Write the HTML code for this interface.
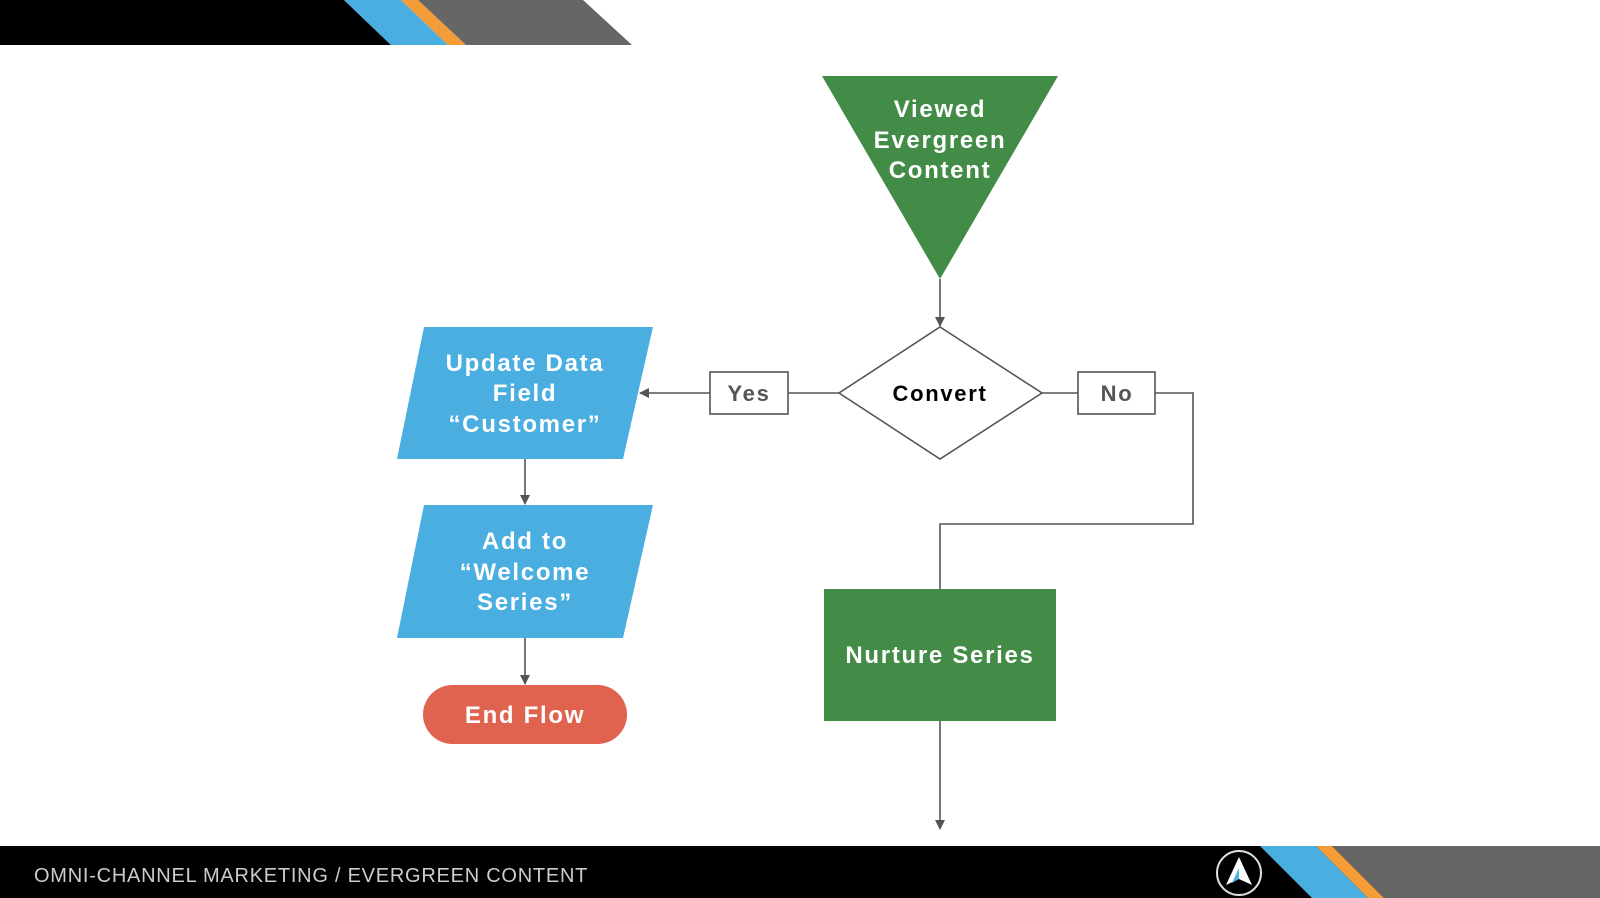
<!DOCTYPE html>
<html><head><meta charset="utf-8"><style>
html,body{margin:0;padding:0;background:#fff;}
svg{display:block;}
text{font-family:"Liberation Sans",sans-serif;font-weight:bold;letter-spacing:1.7px;}
</style></head><body>
<svg width="1600" height="898" viewBox="0 0 1600 898" xmlns="http://www.w3.org/2000/svg">
<defs><marker id="a" markerWidth="10" markerHeight="10" refX="9" refY="5" orient="auto" markerUnits="userSpaceOnUse"><path d="M0,0 L10,5 L0,10 z" fill="#555"/></marker></defs>
<polygon points="0,0 344,0 391,45 0,45" fill="#000"/>
<polygon points="344,0 401,0 448,45 391,45" fill="#4aaee0"/>
<polygon points="401,0 418,0 466,45 448,45" fill="#f39c38"/>
<polygon points="418,0 583,0 632,45 466,45" fill="#666"/>
<rect x="0" y="846" width="1600" height="52" fill="#000"/>
<polygon points="1260,846 1316,846 1368,898 1312,898" fill="#4aaee0"/>
<polygon points="1316,846 1332,846 1384,898 1368,898" fill="#f39c38"/>
<polygon points="1332,846 1600,846 1600,898 1384,898" fill="#666"/>
<circle cx="1239" cy="873" r="22" fill="none" stroke="#ddd" stroke-width="2"/>
<polygon points="1239,857 1226,885 1239,879 1252,885" fill="#fff"/>
<polygon points="1239,868 1232,883 1239,879" fill="#4aaee0"/>
<text x="34" y="882" font-size="20" fill="#ccc" style="font-weight:normal;letter-spacing:0.75px">OMNI-CHANNEL MARKETING / EVERGREEN CONTENT</text>
<g stroke="#555" stroke-width="1.6" fill="none">
<line x1="940" y1="279" x2="940" y2="326" marker-end="url(#a)"/>
<line x1="839" y1="393" x2="788" y2="393"/>
<line x1="710" y1="393" x2="640" y2="393" marker-end="url(#a)"/>
<line x1="1042" y1="393" x2="1078" y2="393"/>
<polyline points="1155,393 1193,393 1193,524 940,524 940,589"/>
<line x1="940" y1="721" x2="940" y2="829" marker-end="url(#a)"/>
<line x1="525" y1="459" x2="525" y2="504" marker-end="url(#a)"/>
<line x1="525" y1="638" x2="525" y2="684" marker-end="url(#a)"/>
<rect x="710" y="372" width="78" height="42" fill="#fff"/>
<rect x="1078" y="372" width="77" height="42" fill="#fff"/>
<polygon points="940,327 1042,393 940,459 839,393" fill="#fff"/>
</g>
<text x="749" y="401" font-size="22" fill="#555" text-anchor="middle">Yes</text>
<text x="1117" y="401" font-size="22" fill="#555" text-anchor="middle">No</text>
<text x="940" y="401" font-size="22" fill="#000" text-anchor="middle">Convert</text>
<polygon points="822,76 1058,76 940,279" fill="#438c47"/>
<g font-size="24" fill="#fff" text-anchor="middle">
<text x="940" y="117">Viewed</text>
<text x="940" y="148">Evergreen</text>
<text x="940" y="178">Content</text>
</g>
<rect x="824" y="589" width="232" height="132" fill="#438c47"/>
<text x="940" y="663" font-size="24" fill="#fff" text-anchor="middle">Nurture Series</text>
<polygon points="424,327 653,327 623,459 397,459" fill="#4aaee0"/>
<g font-size="24" fill="#fff" text-anchor="middle">
<text x="525" y="371">Update Data</text>
<text x="525" y="401">Field</text>
<text x="525" y="432">“Customer”</text>
</g>
<polygon points="424,505 653,505 623,638 397,638" fill="#4aaee0"/>
<g font-size="24" fill="#fff" text-anchor="middle">
<text x="525" y="549">Add to</text>
<text x="525" y="580">“Welcome</text>
<text x="525" y="610">Series”</text>
</g>
<rect x="423" y="685" width="204" height="59" rx="29.5" fill="#e06350"/>
<text x="525" y="723" font-size="24" fill="#fff" text-anchor="middle">End Flow</text>
</svg>
</body></html>
